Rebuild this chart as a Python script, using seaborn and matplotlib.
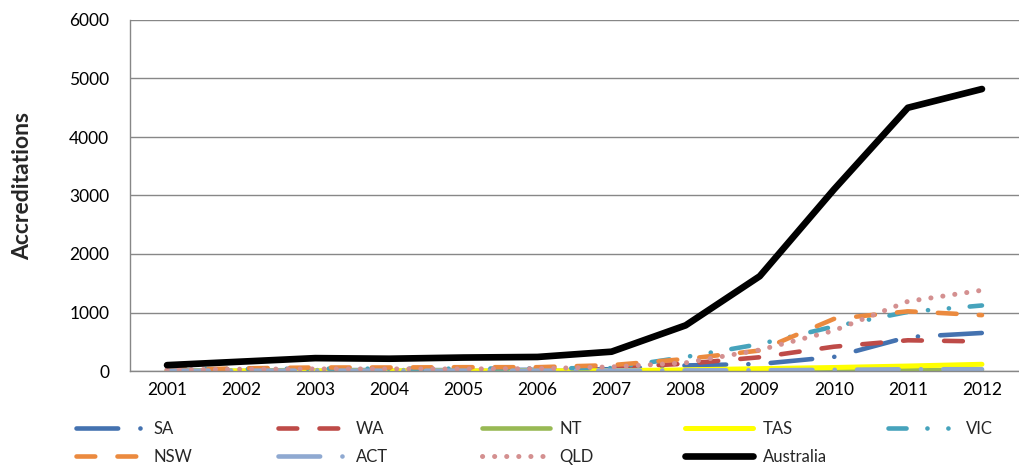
import numpy as np
import matplotlib
matplotlib.use("Agg")
import matplotlib.pyplot as plt
import seaborn as sns

# Accreditations per state / territory, 2001-2012
years = [str(y) for y in range(2001, 2013)]
sa = [5, 10, 15, 15, 15, 20, 30, 95, 120, 240, 580, 650]
wa = [5, 10, 15, 20, 20, 25, 60, 125, 235, 415, 525, 505]
nt = [2, 2, 3, 3, 3, 3, 5, 8, 10, 12, 15, 20]
tas = [0, 0, 0, 0, 0, 0, 5, 20, 40, 60, 85, 115]
vic = [30, 35, 40, 40, 40, 45, 50, 240, 460, 760, 1010, 1120]
nsw = [20, 45, 60, 60, 65, 65, 100, 205, 350, 890, 1020, 955]
act = [5, 5, 5, 5, 5, 5, 8, 10, 12, 20, 30, 30]
qld = [20, 30, 35, 35, 35, 40, 70, 140, 360, 690, 1190, 1380]
australia = [100, 160, 220, 210, 230, 240, 330, 780, 1620, 3100, 4500, 4820]

y_ticks = [0, 1000, 2000, 3000, 4000, 5000, 6000]

sns.set_style("white")
plt.rcParams["font.family"] = ["Lato", "DejaVu Sans"]
plt.rcParams["lines.scale_dashes"] = False

# dash patterns in points (round caps extend each dash by the line width)
DASH_DOT = (0, (30, 16, 0.1, 16))
DASH = (0, (13.5, 16))
DASH_DOT_DOT = (0, (13, 15, 0.1, 15, 0.1, 15))
ROUND_DOT = (0, (0.1, 8.6))

series = [
    ("SA", sa, "#4472B0", 3.3, DASH_DOT),
    ("WA", wa, "#BE4B48", 3.3, DASH),
    ("NT", nt, "#98B954", 3.3, "-"),
    ("TAS", tas, "#FFFF00", 3.6, "-"),
    ("VIC", vic, "#46A3BC", 3.3, DASH_DOT_DOT),
    ("NSW", nsw, "#EB8A3F", 3.3, DASH),
    ("ACT", act, "#8FA9D1", 3.3, DASH_DOT),
    ("QLD", qld, "#D49090", 3.6, ROUND_DOT),
    ("Australia", australia, "#000000", 4.8, "-"),
]

fig = plt.figure(figsize=(10.19, 4.65), dpi=100)
ax = fig.add_axes([130 / 1019, 94 / 465, 889 / 1019, 351 / 465])

x = np.arange(len(years))
for name, vals, color, lw, ls in series:
    sns.lineplot(x=x, y=vals, ax=ax, color=color, linewidth=lw, linestyle=ls,
                 label=name, dash_capstyle="round", solid_capstyle="round",
                 solid_joinstyle="round", dash_joinstyle="round")

handles, labels = ax.get_legend_handles_labels()
if ax.get_legend() is not None:
    ax.get_legend().remove()

ax.set_xlim(-0.5, len(years) - 0.5)
ax.set_ylim(0, 6000)
ax.set_xticks(x)
ax.set_xticklabels(years)
ax.set_yticks(y_ticks)
ax.grid(axis="y", color="#878787", linewidth=1.0)
ax.grid(axis="x", visible=False)
ax.set_axisbelow(True)
for side in ("top", "right"):
    ax.spines[side].set_visible(False)
for side in ("left", "bottom"):
    ax.spines[side].set_color("#878787")
    ax.spines[side].set_linewidth(1.0)
ax.tick_params(axis="x", length=0, pad=8, labelsize=12.5, colors="black")
ax.tick_params(axis="y", length=0, pad=15, labelsize=12.5, colors="black")

ax.set_xlabel("")
ax.set_ylabel("Accreditations", fontsize=16.5, fontweight="bold")
ax.yaxis.set_label_coords((33 - 130) / 889, 0.527)

# legend laid out in five fixed-width columns below the plot
columns = [[0, 5], [1, 6], [2, 7], [3, 8], [4]]
col_x = [76, 278, 482, 685, 888]
for idx, cx in zip(columns, col_x):
    fig.legend([handles[i] for i in idx], [labels[i] for i in idx],
               loc="upper left", bbox_to_anchor=(cx / 1019, 0.094),
               bbox_transform=fig.transFigure, frameon=False,
               borderpad=0, borderaxespad=0, handlelength=4.1,
               handletextpad=0.55, labelspacing=0.7, fontsize=12)

fig.savefig("out.png", dpi=100)
